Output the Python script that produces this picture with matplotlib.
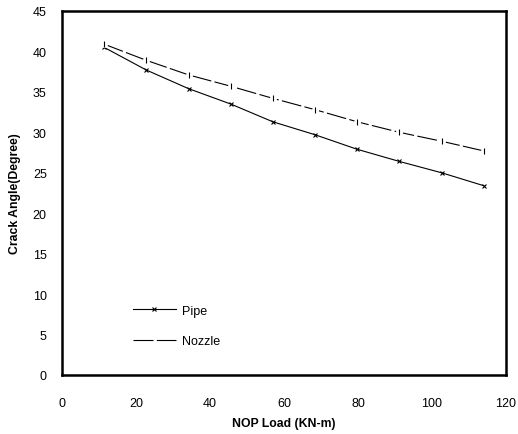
import matplotlib.pyplot as plt

# Data
load = [11.4, 22.8, 34.2, 45.6, 57.0, 68.4, 79.8, 91.2, 102.6, 114.0]
pipe = [40.5, 37.7, 35.4, 33.5, 31.3, 29.7, 27.9, 26.4, 25.0, 23.4]
nozzle = [40.9, 38.9, 37.1, 35.7, 34.2, 32.8, 31.3, 30.0, 28.9, 27.7]

plt.rcParams['font.family'] = ['Liberation Sans', 'DejaVu Sans']

fig = plt.figure(figsize=(5.18, 4.35), dpi=100)
ax = fig.add_axes([62 / 518, 1 - 376 / 435, (506 - 62) / 518, (376 - 12) / 435])

# Pipe: solid line with small x markers
ax.plot(load, pipe, color='black', lw=0.8, marker='x', ms=3, mew=0.8, label='Pipe')

# Nozzle: line broken at each point, small tick markers
ax.plot(load, nozzle, color='black', lw=0.8, dashes=(18, 3), label='Nozzle')
ax.plot(load, nozzle, ls='none', marker='o', ms=4, mfc='white', mec='white')
ax.plot(load, nozzle, ls='none', marker='|', ms=4, mew=0.8, color='black')

ax.set_xlim(0, 120)
ax.set_ylim(0, 45)
ax.set_xticks(range(0, 121, 20))
ax.set_yticks(range(0, 46, 5))
ax.tick_params(length=0, labelsize=9)
ax.tick_params(axis='x', pad=16)
ax.tick_params(axis='y', pad=11)
for s in ax.spines.values():
    s.set_linewidth(1.8)

ax.set_xlabel('NOP Load (KN-m)', fontsize=8.8, fontweight='bold')
ax.set_ylabel('Crack Angle(Degree)', fontsize=8.8, fontweight='bold')
ax.xaxis.set_label_coords(0.5, -0.115)
ax.yaxis.set_label_coords(-0.092, 0.5)

ax.legend(loc='lower left', bbox_to_anchor=(0.135, 0.045), frameon=False,
          fontsize=9, handlelength=3.4, labelspacing=1.5, handletextpad=0.5)

fig.savefig('out.png', dpi=100)
